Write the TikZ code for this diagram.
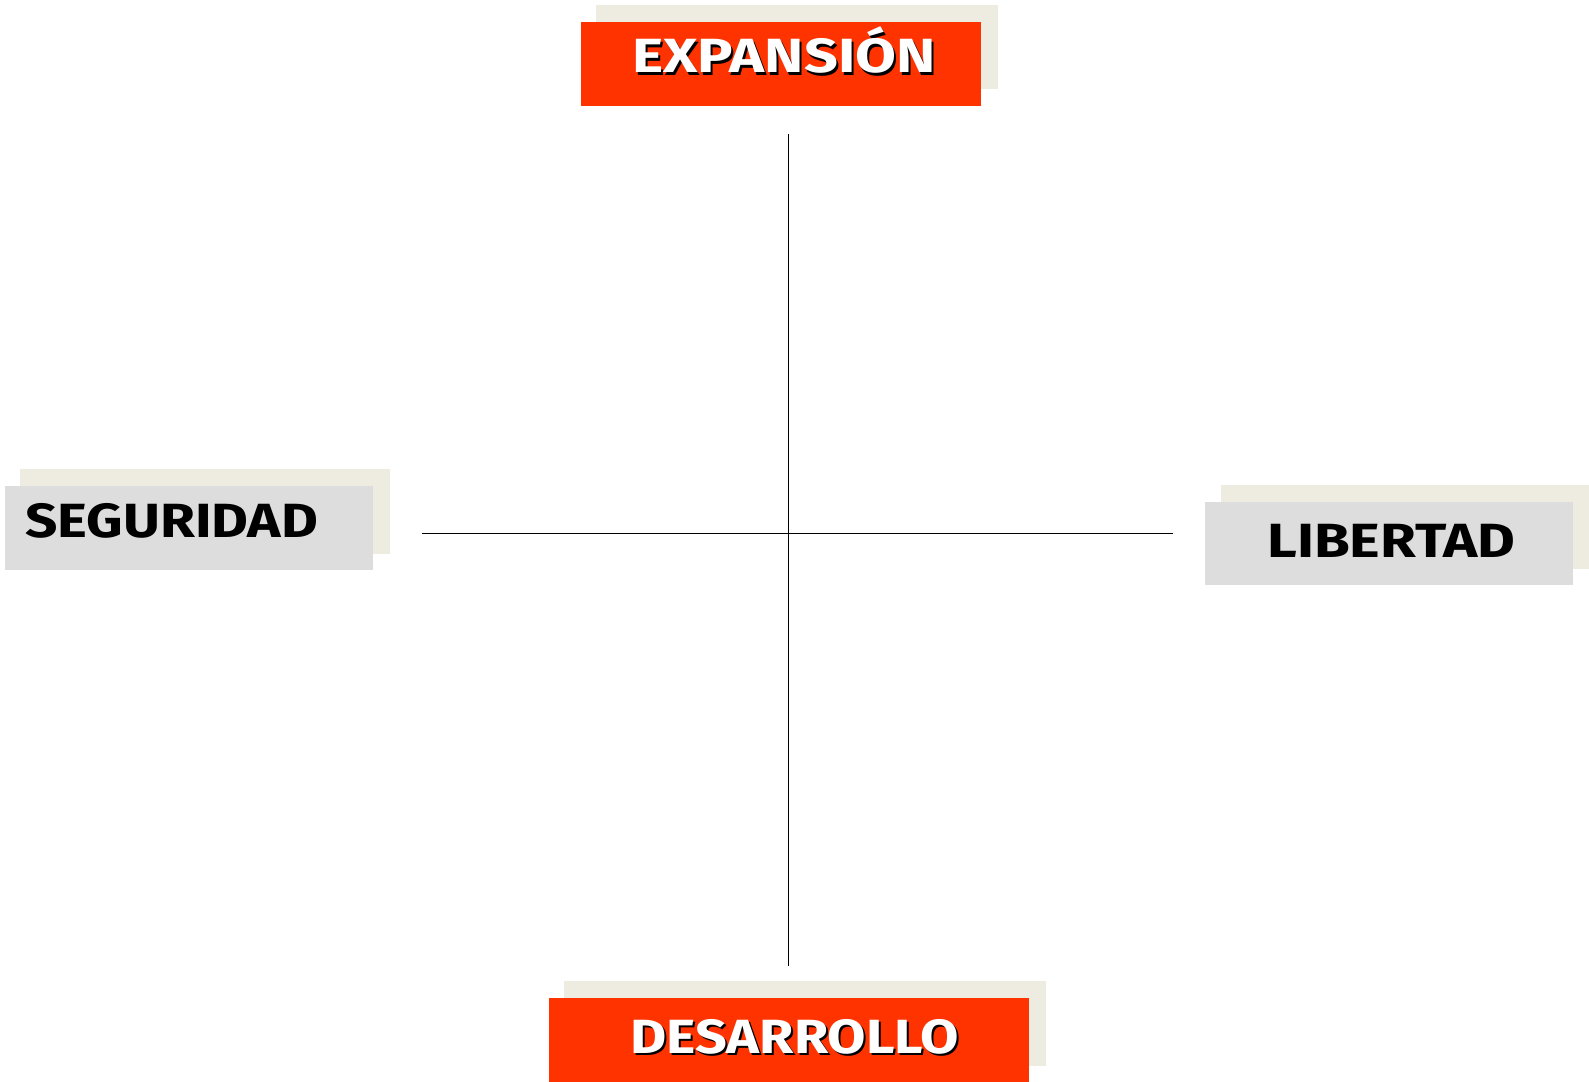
\documentclass[tikz,border=0pt]{standalone}
\usepackage{fontspec}
\setmainfont{Fira Sans}
\definecolor{cardred}{HTML}{FF3300}
\definecolor{cardgray}{HTML}{DDDDDD}
\definecolor{cardback}{HTML}{EEEBE0}
% widen a label horizontally by a given factor
\newcommand{\widelabel}[2]{\scalebox{#1}[1]{#2}}
\begin{document}
\begin{tikzpicture}[x=1pt,y=-1pt,
  card/.style={draw=none,inner sep=0pt,anchor=north west,minimum height=84pt},
  backcard/.style={card,fill=cardback},
  redcard/.style={card,fill=cardred},
  graycard/.style={card,fill=cardgray},
  label/.style={inner sep=0pt,anchor=base west,font=\fontsize{48}{50}\selectfont\bfseries},
  axis/.style={line width=1.3pt,black}]
\useasboundingbox (0,0) rectangle (1589,1081);

% top card: EXPANSIÓN
\node[backcard,minimum width=402pt] (topback) at (596,5) {};
\node[redcard,minimum width=400pt] (topcard) at (581,22) {};
\node[label,black] (toptextshadow) at (634,75) {\widelabel{1.235}{EXPANSIÓN}};
\node[label,white] (toptext) at (632,73) {\widelabel{1.235}{EXPANSIÓN}};

% left card: SEGURIDAD
\node[backcard,minimum width=370pt,minimum height=85pt] (leftback) at (20,469) {};
\node[graycard,minimum width=368pt] (leftcard) at (5,486) {};
\node[label,black] (lefttext) at (25,537) {\widelabel{1.18}{SEGURIDAD}};

% right card: LIBERTAD
\node[backcard,minimum width=368pt] (rightback) at (1221,485) {};
\node[graycard,minimum width=368pt,minimum height=83pt] (rightcard) at (1205,502) {};
\node[label,black] (righttext) at (1267,557) {\widelabel{1.21}{LIBERTAD}};

% bottom card: DESARROLLO
\node[backcard,minimum width=482pt,minimum height=85pt] (bottomback) at (564,981) {};
\node[redcard,minimum width=480pt] (bottomcard) at (549,998) {};
\node[label,black] (bottomtextshadow) at (632,1055) {\widelabel{1.16}{DESARROLLO}};
\node[label,white] (bottomtext) at (630,1053) {\widelabel{1.16}{DESARROLLO}};

% axes
\coordinate (vtop) at (788.5,134);
\coordinate (vbottom) at (788.5,966);
\coordinate (hleft) at (421.5,533.5);
\coordinate (hright) at (1172.5,533.5);
\draw[axis] (vtop) -- (vbottom);
\draw[axis] (hleft) -- (hright);
\end{tikzpicture}
\end{document}
